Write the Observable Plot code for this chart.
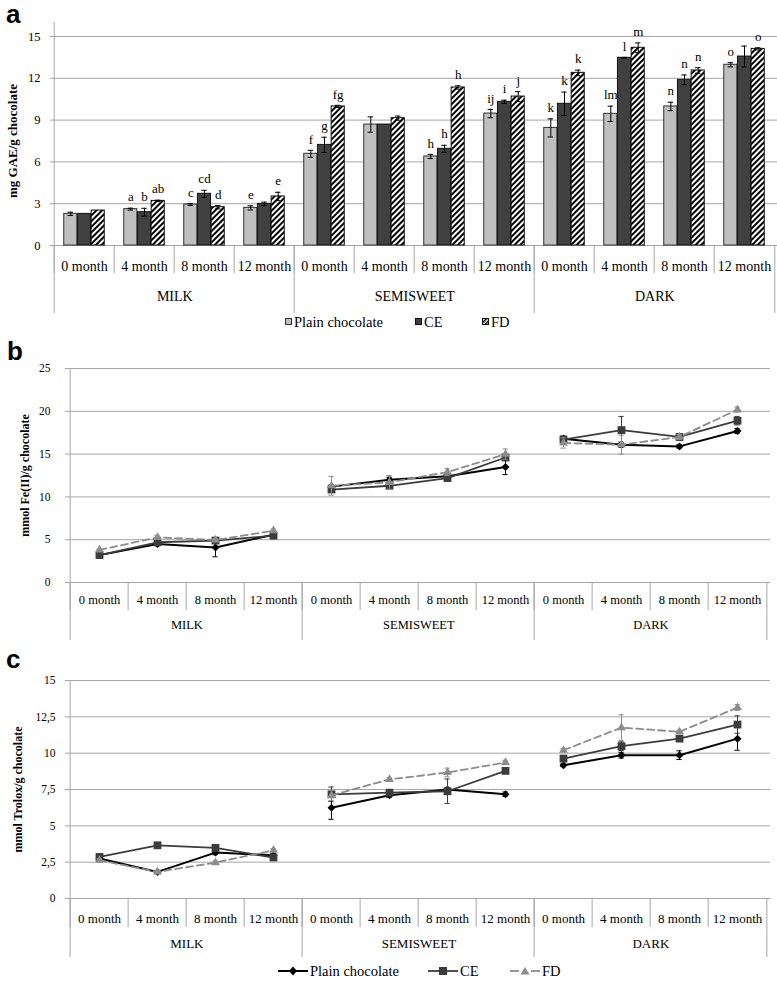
<!DOCTYPE html>
<html>
<head>
<meta charset="utf-8">
<script src="https://cdn.jsdelivr.net/npm/d3@7"></script>
<script src="https://cdn.jsdelivr.net/npm/@observablehq/plot@0.6"></script>
<style>
  body { margin: 0; background: #fff; }
  #root { position: relative; width: 777px; height: 983px; background: #fff; overflow: hidden;
          font-family: "Liberation Serif", "Times New Roman", serif; color: #000; }
  .panel { position: absolute; left: 0; }
  .panel svg text { font-family: "Liberation Serif", "Times New Roman", serif; }
  .letter { position: absolute; z-index: 5; font-family: "Liberation Sans", Arial, sans-serif; font-weight: bold;
            font-size: 26px; line-height: 26px; }
  .leg { position: absolute; display: flex; align-items: center; white-space: nowrap;
         font-size: 14.5px; line-height: 16px; height: 16px; z-index: 5; }
  .leg svg { display: block; }
</style>
</head>
<body>
<div id="root">
  <div id="pa" class="panel" style="top:0px"></div>
  <div id="pb" class="panel" style="top:335px"></div>
  <div id="pc" class="panel" style="top:647px"></div>
  <div class="letter" style="left:6px;top:1px">a</div>
  <div class="letter" style="left:7px;top:338px">b</div>
  <div class="letter" style="left:6px;top:646px">c</div>
</div>
<script>
// ---------------- data ----------------
const groups = ["MILK", "SEMISWEET", "DARK"];
const months = ["0 month", "4 month", "8 month", "12 month"];
const seriesNames = ["Plain chocolate", "CE", "FD"];

// (a) total phenolics, mg GAE/g chocolate  (order: MILK 0,4,8,12 | SEMISWEET 0,4,8,12 | DARK 0,4,8,12)
const tpcPlain    = [2.27, 2.61, 2.94, 2.70,  6.58, 8.68, 6.39, 9.47,   8.44, 9.45, 9.98, 12.97];
const tpcPlainErr = [0.12, 0.07, 0.07, 0.15,  0.25, 0.55, 0.15, 0.30,   0.65, 0.55, 0.30, 0.15];
const tpcCE       = [2.27, 2.39, 3.71, 2.99,  7.22, 8.68, 6.94, 10.31,  10.17, 13.47, 11.89, 13.56];
const tpcCEErr    = [0.00, 0.28, 0.25, 0.12,  0.55, 0.00, 0.25, 0.12,   0.84, 0.03, 0.35, 0.75];
const tpcFD       = [2.51, 3.20, 2.75, 3.52,  9.98, 9.14, 11.34, 10.69, 12.39, 14.19, 12.56, 14.11];
const tpcFDErr    = [0.00, 0.05, 0.12, 0.30,  0.08, 0.15, 0.12, 0.35,   0.20, 0.35, 0.20, 0.08];
const lettersPlain = ["", "a", "c", "e",   "f", "", "h", "ij",  "k", "lm", "n", "o"];
const lettersCE    = ["", "b", "cd", "",   "g", "", "h", "i",   "k", "l", "n", ""];
const lettersFD    = ["", "ab", "d", "e",  "fg", "", "h", "j",  "k", "m", "n", "o"];

// (b) FRAP, mmol Fe(II)/g chocolate
const frapPlain    = [3.20, 4.49, 4.10, 5.59,  11.20, 12.00, 12.40, 13.50,  16.80, 16.10, 15.90, 17.70];
const frapPlainErr = [0.10, 0.20, 1.10, 0.40,  0.20, 0.30, 0.20, 0.90,     0.30, 0.30, 0.20, 0.30];
const frapCE       = [3.20, 4.70, 4.90, 5.47,  10.86, 11.30, 12.20, 14.60,  16.70, 17.80, 17.00, 18.90];
const frapCEErr    = [0.10, 0.20, 0.20, 0.30,  0.20, 0.20, 0.20, 0.30,     0.30, 1.60, 0.40, 0.50];
const frapFD       = [3.80, 5.27, 4.96, 6.05,  11.30, 11.70, 12.90, 15.00,  16.30, 16.10, 17.00, 20.20];
const frapFDErr    = [0.10, 0.20, 0.20, 0.20,  1.10, 0.80, 0.40, 0.60,     0.60, 1.10, 0.30, 0.30];

// (c) TEAC, mmol Trolox/g chocolate
const teacPlain    = [2.75, 1.83, 3.16, 2.98,  6.25, 7.10, 7.50, 7.18,   9.17, 9.86, 9.86, 11.00];
const teacPlainErr = [0.10, 0.10, 0.15, 0.10,  0.80, 0.15, 0.10, 0.15,   0.10, 0.20, 0.30, 0.80];
const teacCE       = [2.86, 3.66, 3.48, 2.82,  7.17, 7.28, 7.38, 8.78,   9.63, 10.48, 11.00, 11.97];
const teacCEErr    = [0.10, 0.10, 0.10, 0.10,  0.50, 0.10, 0.84, 0.10,   0.10, 0.30, 0.10, 0.60];
const teacFD       = [2.63, 1.83, 2.47, 3.32,  7.10, 8.20, 8.67, 9.36,   10.20, 11.76, 11.47, 13.14];
const teacFDErr    = [0.10, 0.10, 0.10, 0.10,  0.35, 0.10, 0.30, 0.15,   0.10, 0.88, 0.10, 0.20];

const ticksA = [0, 3, 6, 9, 12, 15];
const ticksB = [0, 5, 10, 15, 20, 25];
const ticksC = [0, 2.5, 5, 7.5, 10, 12.5, 15];

// ---------------- helpers ----------------
const W = 777;
const FONT = "Liberation Serif";
const keys = groups.flatMap(g => months.map(m => g + "|" + m));
const firstKeys = groups.map(g => g + "|" + months[0]);
const monthOf = k => k.split("|")[1];
function rows(vals, errs, name, letters) {
  return keys.map((k, i) => ({key: k, group: k.split("|")[0], value: vals[i], err: errs[i],
                              series: name, letter: letters ? letters[i] : ""}));
}
const GRID = "#a6a6a6";
const baseStyle = "font-family: 'Liberation Serif', 'Times New Roman', serif; font-size: 14px; color: #000; background: #fff; overflow: visible;";

function separators(bw, shortLen, longLen, topExtend, topVal) {
  return [
    Plot.ruleX(keys, {x: d => d, y1: () => 0, y2: () => 0, dx: -bw / 2, insetBottom: -shortLen, stroke: GRID}),
    Plot.ruleX(firstKeys, {x: d => d, y1: () => 0, y2: () => 0, dx: -bw / 2, insetBottom: -longLen, stroke: GRID}),
    Plot.ruleX([keys[keys.length - 1]], {x: d => d, y1: () => 0, y2: () => 0, dx: bw / 2, insetBottom: -longLen, stroke: GRID}),
    Plot.ruleX([keys[0]], {x: d => d, y1: () => 0, y2: () => topVal, dx: -bw / 2, insetBottom: topExtend, stroke: GRID})
  ];
}

// ---------------- panel a ----------------
{
  const H = 314, mt = 36, mb = 69, ml = 50, mr = 0;
  const bw = (W - ml - mr) / 12;
  const barW = 13.7, pad = (bw - 3 * barW) / 2;
  const data = [rows(tpcPlain, tpcPlainErr, seriesNames[0], lettersPlain),
                rows(tpcCE, tpcCEErr, seriesNames[1], lettersCE),
                rows(tpcFD, tpcFDErr, seriesNames[2], lettersFD)];
  const fills = ["#bfbfbf", "#404040", "url(#hatchFD)"];
  const strokes = ["#333", "#111", "#111"];
  const marks = [
    Plot.gridY(ticksA, {stroke: GRID, strokeOpacity: 1}),
    ...data.map((d, i) => Plot.barY(d, {x: "key", y: "value", fill: fills[i], stroke: strokes[i], strokeWidth: 1,
      insetLeft: pad + i * barW, insetRight: bw - pad - (i + 1) * barW})),
    ...data.flatMap((d, i) => {
      const e = d.filter(r => r.err > 0);
      const off = (i - 1) * barW;
      const capL = bw / 2 + off - 3, capR = bw / 2 - off - 3;
      return [
        Plot.ruleX(e, {x: "key", y1: r => r.value - r.err, y2: r => r.value + r.err, dx: off, stroke: "#000", strokeWidth: 1}),
        Plot.tickY(e, {x: "key", y: r => r.value + r.err, insetLeft: capL, insetRight: capR, stroke: "#000", strokeWidth: 1}),
        Plot.tickY(e, {x: "key", y: r => r.value - r.err, insetLeft: capL, insetRight: capR, stroke: "#000", strokeWidth: 1})
      ];
    }),
    ...data.map((d, i) => Plot.text(d.filter(r => r.letter), {x: "key", y: r => r.value + r.err, text: "letter",
      dx: (i - 1) * barW, dy: -11, fontSize: 13, fontFamily: FONT})),
    ...separators(bw, 28, 68, 14, 15),
    Plot.axisY(ticksA, {tickSize: 0, tickPadding: 10, fontSize: 12.5, fontFamily: FONT, label: null}),
    Plot.axisX({tickSize: 0, tickPadding: 16, tickFormat: monthOf, fontSize: 14, fontFamily: FONT, label: null}),
    Plot.text(groups, {x: g => g + "|" + months[1], dx: bw / 2, frameAnchor: "bottom", dy: 55, fontSize: 14, fontFamily: FONT}),
    Plot.text(["mg GAE/g chocolate"], {frameAnchor: "left", textAnchor: "middle", rotate: -90, dx: -38,
      fontWeight: "bold", fontSize: 13, fontFamily: FONT})
  ];
  const svg = Plot.plot({
    width: W, height: H, marginTop: mt, marginBottom: mb, marginLeft: ml, marginRight: mr,
    style: baseStyle,
    x: {type: "band", domain: keys, padding: 0},
    y: {domain: [0, 15]},
    marks
  });
  const pat = d3.select(svg).insert("defs", ":first-child").append("pattern")
    .attr("id", "hatchFD").attr("patternUnits", "userSpaceOnUse")
    .attr("width", 4).attr("height", 4).attr("patternTransform", "rotate(45)");
  pat.append("rect").attr("width", 4).attr("height", 4).attr("fill", "#fff");
  pat.append("rect").attr("width", 2).attr("height", 4).attr("fill", "#000");
  document.getElementById("pa").appendChild(svg);

  // legend a
  const root = document.getElementById("root");
  const lefts = [285, 415, 482];
  const sw = [
    '<rect x="0.5" y="0.5" width="6" height="6" fill="#bfbfbf" stroke="#333"/>',
    '<rect x="0.5" y="0.5" width="6" height="6" fill="#404040" stroke="#111"/>',
    '<defs><pattern id="hatchLeg" patternUnits="userSpaceOnUse" width="3" height="3" patternTransform="rotate(45)"><rect width="3" height="3" fill="#fff"/><rect width="1.5" height="3" fill="#000"/></pattern></defs><rect x="0.5" y="0.5" width="6" height="6" fill="url(#hatchLeg)" stroke="#111"/>'
  ];
  seriesNames.forEach((n, i) => {
    const el = document.createElement("div");
    el.className = "leg";
    el.style.left = lefts[i] + "px";
    el.style.top = "314px";
    el.innerHTML = `<svg width="8" height="8" style="margin-right:1px">${sw[i]}</svg><span>${n}</span>`;
    root.appendChild(el);
  });
}

// ---------------- line panels ----------------
const lineStyles = [
  {stroke: "#000", strokeWidth: 2, dash: null, symbol: "diamond2", r: 3.6},
  {stroke: "#3c3c3c", strokeWidth: 1.8, dash: null, symbol: "square", r: 4.4},
  {stroke: "#8c8c8c", strokeWidth: 1.8, dash: "7,4", symbol: "triangle", r: 3.3}
];

function linePanel(id, data, opts) {
  const {H, mt, mb, ml, mr, ticks, domain, title, titleDx, tickFmt, yTickPad, yFont, xFont, xPad, groupDy, shortLen, longLen} = opts;
  const bw = (W - ml - mr) / 12;
  const marks = [
    Plot.gridY(ticks, {stroke: GRID, strokeOpacity: 1}),
    ...separators(bw, shortLen, longLen, 0, domain[1])
  ];
  data.forEach((d, i) => {
    const s = lineStyles[i];
    const e = d.filter(r => r.err > 0);
    marks.push(
      Plot.ruleX(e, {x: "key", y1: r => r.value - r.err, y2: r => r.value + r.err, stroke: s.stroke, strokeWidth: 1}),
      Plot.tickY(e, {x: "key", y: r => r.value + r.err, insetLeft: bw / 2 - 3, insetRight: bw / 2 - 3, stroke: s.stroke, strokeWidth: 1}),
      Plot.tickY(e, {x: "key", y: r => r.value - r.err, insetLeft: bw / 2 - 3, insetRight: bw / 2 - 3, stroke: s.stroke, strokeWidth: 1}),
      Plot.line(d, {x: "key", y: "value", z: "group", stroke: s.stroke, strokeWidth: s.strokeWidth,
                    strokeDasharray: s.dash || undefined, curve: "linear"}),
      Plot.dot(d, {x: "key", y: "value", symbol: () => s.symbol, fill: s.stroke, stroke: "none", r: s.r})
    );
  });
  marks.push(
    Plot.axisY(ticks, {tickSize: 0, tickPadding: yTickPad, fontSize: yFont, fontFamily: FONT, tickFormat: tickFmt, label: null}),
    Plot.axisX({tickSize: 0, tickPadding: xPad, tickFormat: monthOf, fontSize: xFont, fontFamily: FONT, label: null}),
    Plot.text(groups, {x: g => g + "|" + months[1], dx: bw / 2, frameAnchor: "bottom", dy: groupDy, fontSize: xFont, fontFamily: FONT}),
    Plot.text([title], {frameAnchor: "left", textAnchor: "middle", rotate: -90, dx: titleDx, fontWeight: "bold", fontSize: 12, fontFamily: FONT})
  );
  const svg = Plot.plot({
    width: W, height: H, marginTop: mt, marginBottom: mb, marginLeft: ml, marginRight: mr,
    style: baseStyle,
    x: {type: "band", domain: keys, padding: 0},
    y: {domain},
    symbol: {type: "identity"},
    marks
  });
  document.getElementById(id).appendChild(svg);
}

linePanel("pb", [rows(frapPlain, frapPlainErr, seriesNames[0]), rows(frapCE, frapCEErr, seriesNames[1]), rows(frapFD, frapFDErr, seriesNames[2])], {
  H: 312, mt: 33, mb: 65, ml: 65, mr: 7, ticks: ticksB, domain: [0, 25], title: "mmol Fe(II)/g chocolate", titleDx: -40,
  tickFmt: d => String(d), yTickPad: 15, yFont: 11.5, xFont: 12.5, xPad: 13, groupDy: 46, shortLen: 28, longLen: 58
});
linePanel("pc", [rows(teacPlain, teacPlainErr, seriesNames[0]), rows(teacCE, teacCEErr, seriesNames[1]), rows(teacFD, teacFDErr, seriesNames[2])], {
  H: 316, mt: 33, mb: 65, ml: 65, mr: 7, ticks: ticksC, domain: [0, 15], title: "mmol Trolox/g chocolate", titleDx: -47,
  tickFmt: d => String(d).replace(".", ","), yTickPad: 10, yFont: 11.5, xFont: 13, xPad: 15, groupDy: 49, shortLen: 29, longLen: 59
});

// legend c
{
  const root = document.getElementById("root");
  const lefts = [278, 428, 510];
  const markerSvg = [
    '<path d="M15,0.5 L19,5 L15,9.5 L11,5 Z" fill="#000"/>',
    '<rect x="11" y="1" width="8" height="8" fill="#3c3c3c"/>',
    '<path d="M15,1 L19.5,8.5 L10.5,8.5 Z" fill="#8c8c8c"/>'
  ];
  const lineSvg = [
    '<line x1="0" y1="5" x2="30" y2="5" stroke="#000" stroke-width="2"/>',
    '<line x1="0" y1="5" x2="30" y2="5" stroke="#3c3c3c" stroke-width="1.8"/>',
    '<line x1="0" y1="5" x2="9" y2="5" stroke="#8c8c8c" stroke-width="1.8"/><line x1="21" y1="5" x2="30" y2="5" stroke="#8c8c8c" stroke-width="1.8"/>'
  ];
  seriesNames.forEach((n, i) => {
    const el = document.createElement("div");
    el.className = "leg";
    el.style.left = lefts[i] + "px";
    el.style.top = "963px";
    el.innerHTML = `<svg width="30" height="10" style="margin-right:2px">${lineSvg[i]}${markerSvg[i]}</svg><span>${n}</span>`;
    root.appendChild(el);
  });
}
</script>
</body>
</html>
